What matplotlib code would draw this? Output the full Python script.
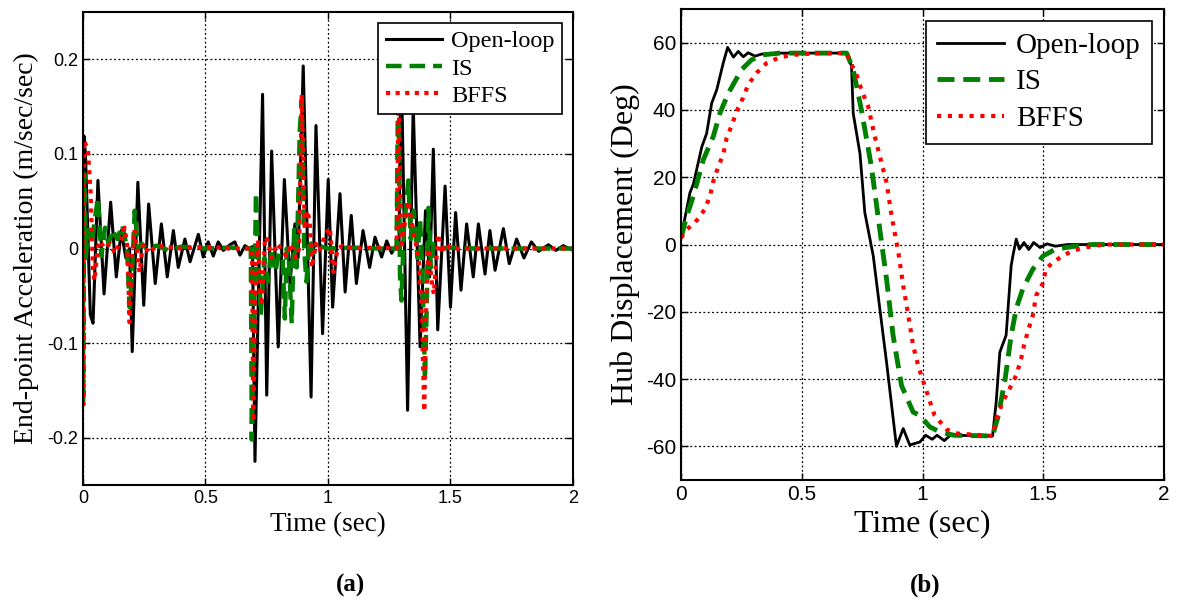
import matplotlib
matplotlib.use('Agg')
import matplotlib.pyplot as plt

# ---- (a) end-point acceleration ----
t_open_acc = [0.000, 0.004, 0.010, 0.030, 0.041, 0.061, 0.086, 0.113, 0.136, 0.156, 0.175, 0.190,
              0.201, 0.224, 0.248, 0.268, 0.295, 0.320, 0.344, 0.369, 0.389, 0.416, 0.437, 0.471,
              0.491, 0.511, 0.532, 0.552, 0.573, 0.600, 0.620, 0.641, 0.661, 0.680, 0.692,
              0.702, 0.733, 0.750, 0.770, 0.797, 0.822, 0.845, 0.865, 0.878, 0.899, 0.931,
              0.951, 0.978, 1.001, 1.019, 1.049, 1.070, 1.095, 1.116, 1.143, 1.170, 1.192,
              1.219, 1.240, 1.260, 1.280, 1.290, 1.298, 1.325, 1.348, 1.376, 1.398, 1.415,
              1.430, 1.448, 1.478, 1.500, 1.521, 1.543, 1.566, 1.593, 1.614, 1.641, 1.661,
              1.682, 1.716, 1.740, 1.770, 1.800, 1.830, 1.860, 1.900, 1.930, 1.960, 2.000]
a_open = [0.000, 0.119, 0.100, -0.070, -0.079, 0.072, -0.048, 0.049, -0.030, 0.019, -0.010, 0.000,
          -0.109, 0.070, -0.060, 0.047, -0.037, 0.026, -0.030, 0.019, -0.020, 0.010, -0.014, 0.015,
          -0.009, 0.007, -0.008, 0.007, -0.002, 0.004, 0.007, -0.007, 0.003, 0.000, 0.002,
          -0.225, 0.163, -0.155, 0.103, -0.104, 0.073, -0.037, 0.026, -0.010, 0.193, -0.157,
          0.130, -0.090, 0.073, -0.062, 0.058, -0.046, 0.035, -0.037, 0.019, -0.020, 0.012,
          -0.009, 0.008, -0.005, 0.004, 0.000, 0.210, -0.171, 0.150, -0.104, 0.040, -0.030,
          0.105, -0.086, 0.066, -0.062, 0.038, -0.044, 0.026, -0.030, 0.026, -0.027, 0.019,
          -0.023, 0.021, -0.016, 0.010, -0.010, 0.007, -0.003, 0.004, -0.002, 0.003, -0.002]

t_is_acc = [0.000, 0.001, 0.005, 0.012, 0.020, 0.035, 0.061, 0.075, 0.090, 0.105, 0.120, 0.140,
            0.160, 0.180, 0.190, 0.200, 0.211, 0.225, 0.240, 0.260, 0.300, 0.350, 0.400, 0.500,
            0.600, 0.685, 0.689, 0.700, 0.706, 0.716, 0.726, 0.740, 0.755, 0.770, 0.785, 0.800,
            0.815, 0.824, 0.832, 0.840, 0.852, 0.862, 0.872, 0.885, 0.893, 0.903, 0.912, 0.925,
            0.940, 0.960, 1.000, 1.100, 1.200, 1.280, 1.287, 1.294, 1.300, 1.310, 1.328, 1.338,
            1.350, 1.365, 1.376, 1.385, 1.396, 1.404, 1.410, 1.420, 1.430, 1.450, 1.500, 1.600,
            1.800, 2.000]
a_is = [0.000, -0.165, 0.079, -0.010, 0.020, 0.005, 0.054, -0.008, 0.022, 0.005, 0.020, 0.010,
        0.025, 0.000, -0.062, -0.030, 0.040, 0.000, 0.005, 0.000, 0.003, -0.002, 0.002, 0.000,
        0.001, 0.000, -0.202, -0.050, 0.059, -0.010, -0.070, -0.010, -0.035, 0.000, -0.025, -0.005,
        -0.010, -0.074, 0.000, -0.010, -0.079, 0.020, -0.020, 0.125, 0.157, 0.000, -0.035, 0.010,
        -0.005, 0.003, 0.000, 0.001, 0.000, 0.000, 0.200, -0.030, -0.055, 0.020, 0.072, 0.010,
        0.040, -0.010, 0.030, -0.020, -0.139, -0.050, 0.043, -0.020, 0.005, 0.000, 0.001, 0.000,
        0.000, 0.000]

t_bffs_acc = [0.000, 0.001, 0.004, 0.020, 0.031, 0.041, 0.047, 0.060, 0.068, 0.090, 0.110, 0.130,
              0.150, 0.170, 0.182, 0.190, 0.200, 0.210, 0.220, 0.231, 0.245, 0.270, 0.300, 0.400,
              0.500, 0.600, 0.690, 0.695, 0.705, 0.715, 0.722, 0.730, 0.743, 0.755, 0.770, 0.790,
              0.810, 0.830, 0.850, 0.870, 0.882, 0.893, 0.905, 0.915, 0.925, 0.935, 0.950, 0.965,
              0.990, 1.008, 1.022, 1.040, 1.060, 1.100, 1.200, 1.280, 1.289, 1.296, 1.300, 1.310,
              1.328, 1.340, 1.355, 1.370, 1.382, 1.393, 1.402, 1.410, 1.423, 1.432, 1.450, 1.465,
              1.480, 1.500, 1.700, 2.000]
a_bffs = [0.000, -0.165, 0.114, 0.105, 0.060, -0.023, -0.034, 0.000, 0.008, 0.000, 0.005, -0.005,
          0.005, 0.022, 0.000, -0.078, -0.010, 0.020, 0.000, -0.025, 0.005, -0.005, 0.003, 0.000,
          0.002, 0.000, 0.000, -0.183, -0.020, 0.010, -0.045, -0.060, 0.012, 0.008, -0.010, 0.005,
          0.000, -0.008, 0.005, -0.010, 0.000, 0.163, 0.020, 0.040, 0.030, -0.020, 0.005, -0.003,
          0.015, 0.022, -0.025, 0.000, 0.003, 0.000, 0.001, 0.000, 0.165, 0.040, 0.000, 0.020,
          0.050, 0.030, 0.010, -0.010, -0.062, -0.172, -0.050, 0.000, -0.034, -0.048, 0.015, -0.005,
          0.005, 0.000, 0.000, 0.000]

# ---- (b) hub displacement ----
t_open_hub = [0.000, 0.037, 0.051, 0.086, 0.106, 0.127, 0.148, 0.175, 0.193, 0.217, 0.237, 0.258,
              0.278, 0.306, 0.333, 0.410, 0.686, 0.706, 0.713, 0.741, 0.761, 0.796, 0.823, 0.851,
              0.872, 0.892, 0.920, 0.947, 0.989, 1.013, 1.040, 1.060, 1.090, 1.115, 1.290, 1.305,
              1.320, 1.346, 1.367, 1.374, 1.388, 1.401, 1.420, 1.440, 1.460, 1.487, 1.515, 1.550,
              1.600, 2.000]
hub_open = [2.0, 15.4, 17.9, 29.0, 33.0, 42.0, 46.0, 54.0, 58.6, 55.7, 57.4, 55.8,
            57.0, 56.0, 56.6, 56.9, 56.9, 53.0, 39.0, 27.0, 9.5, -3.4, -19.0, -35.0,
            -47.8, -60.0, -54.7, -59.6, -58.7, -56.7, -57.9, -56.7, -58.3, -56.7, -56.9, -46.8,
            -32.0, -27.0, -6.3, -3.4, 1.6, -1.4, 0.6, -1.5, 0.6, -0.9, 0.2, -0.5,
            0.0, 0.0]

t_is_hub = [0.000, 0.024, 0.051, 0.093, 0.134, 0.161, 0.196, 0.251, 0.292, 0.340, 0.410, 0.686,
            0.713, 0.747, 0.788, 0.823, 0.851, 0.878, 0.913, 0.961, 0.989, 1.030, 1.072, 1.130,
            1.290, 1.314, 1.342, 1.367, 1.388, 1.416, 1.457, 1.499, 1.550, 1.630, 1.700, 2.000]
hub_is = [2.0, 8.5, 14.4, 25.3, 32.2, 39.0, 45.0, 52.0, 54.9, 56.4, 56.9, 56.9,
          52.0, 40.0, 23.3, 4.5, -10.3, -27.0, -41.9, -49.8, -50.8, -54.2, -55.7, -56.7,
          -56.9, -50.8, -40.0, -27.0, -19.0, -13.0, -7.3, -3.4, -1.4, -0.5, 0.0, 0.0]

t_bffs_hub = [0.000, 0.024, 0.058, 0.099, 0.120, 0.134, 0.155, 0.175, 0.189, 0.209, 0.230, 0.257,
              0.278, 0.313, 0.354, 0.410, 0.470, 0.570, 0.686, 0.700, 0.727, 0.747, 0.775, 0.802,
              0.823, 0.851, 0.872, 0.900, 0.920, 0.941, 0.961, 0.982, 1.013, 1.050, 1.100, 1.146,
              1.290, 1.305, 1.332, 1.360, 1.388, 1.408, 1.420, 1.437, 1.457, 1.470, 1.500, 1.510,
              1.540, 1.580, 1.620, 1.680, 1.750, 2.000]
hub_bffs = [2.0, 4.5, 6.5, 10.5, 14.4, 18.9, 23.3, 26.8, 31.7, 35.2, 39.6, 43.6,
            47.5, 51.0, 53.9, 55.7, 56.4, 56.9, 56.9, 54.4, 50.5, 46.0, 41.0, 32.2,
            26.3, 18.4, 8.5, -2.4, -12.2, -21.0, -30.0, -36.0, -42.9, -50.8, -55.0, -56.2,
            -56.9, -51.8, -46.8, -42.9, -38.9, -34.0, -30.0, -25.6, -21.0, -15.2, -11.3, -7.3,
            -5.3, -3.4, -1.9, -0.8, 0.0, 0.0]

labels = ['Open-loop', 'IS', 'BFFS']
green = '#008000'
red = '#ff0000'

plt.rcParams['font.family'] = ['Liberation Sans', 'DejaVu Sans']
plt.rcParams['axes.unicode_minus'] = False
serif = ['Liberation Serif', 'DejaVu Serif']

fig = plt.figure(figsize=(11.77, 6.10), dpi=100)
ax1 = fig.add_axes([0.0705, 0.2049, 0.4163, 0.7754])
ax2 = fig.add_axes([0.5786, 0.2131, 0.4104, 0.7721])


def style_axes(ax, tick_size):
    ax.grid(True, linestyle=(0, (1.5, 2)), color='black', linewidth=0.9)
    ax.tick_params(direction='in', top=True, right=True, labelsize=tick_size, length=5, width=1)
    for s in ax.spines.values():
        s.set_linewidth(1.5)


# (a)
ax1.plot(t_open_acc, a_open, color='black', lw=2.2, label=labels[0])
ax1.plot(t_is_acc, a_is, color=green, lw=3.2, dashes=(3.5, 1.8), label=labels[1])
ax1.plot(t_bffs_acc, a_bffs, color=red, lw=3.0, dashes=(1, 1.3), label=labels[2])
ax1.set_xlim(0, 2)
ax1.set_ylim(-0.25, 0.25)
ax1.set_xticks([0, 0.5, 1, 1.5, 2])
ax1.set_xticklabels(['0', '0.5', '1', '1.5', '2'])
ax1.set_yticks([-0.2, -0.1, 0, 0.1, 0.2])
ax1.set_yticklabels(['-0.2', '-0.1', '0', '0.1', '0.2'])
style_axes(ax1, 13)
ax1.set_xlabel('Time (sec)', family=serif, fontsize=19.5, labelpad=4)
ax1.set_ylabel('End-point Acceleration (m/sec/sec)', family=serif, fontsize=20, labelpad=6)
leg1 = ax1.legend(loc='upper right', prop={'family': serif, 'size': 17.5}, fancybox=False,
                  edgecolor='black', framealpha=1, handlelength=2.3, borderaxespad=0.45,
                  labelspacing=0.22, handletextpad=0.4, borderpad=0.3)
leg1.get_frame().set_linewidth(1.2)

# (b)
ax2.plot(t_open_hub, hub_open, color='black', lw=2.0, label=labels[0])
ax2.plot(t_is_hub, hub_is, color=green, lw=3.5, dashes=(3.5, 1.8), label=labels[1])
ax2.plot(t_bffs_hub, hub_bffs, color=red, lw=3.0, dashes=(1, 1.6), label=labels[2])
ax2.set_xlim(0, 2)
ax2.set_ylim(-70, 70)
ax2.set_xticks([0, 0.5, 1, 1.5, 2])
ax2.set_xticklabels(['0', '0.5', '1', '1.5', '2'])
ax2.set_yticks([-60, -40, -20, 0, 20, 40, 60])
style_axes(ax2, 15)
ax2.set_xlabel('Time (sec)', family=serif, fontsize=23, labelpad=4)
ax2.set_ylabel('Hub Displacement (Deg)', family=serif, fontsize=23, labelpad=4)
leg2 = ax2.legend(loc='upper right', prop={'family': serif, 'size': 21}, fancybox=False,
                  edgecolor='black', framealpha=1, handlelength=2.3, borderaxespad=0.4,
                  labelspacing=0.35, handletextpad=0.4, borderpad=0.4)
leg2.get_frame().set_linewidth(1.2)

fig.text(0.298, 0.03, '(a)', family=serif, fontsize=18, fontweight='bold', ha='center')
fig.text(0.786, 0.03, '(b)', family=serif, fontsize=18, fontweight='bold', ha='center')

fig.savefig('out.png', dpi=100)
